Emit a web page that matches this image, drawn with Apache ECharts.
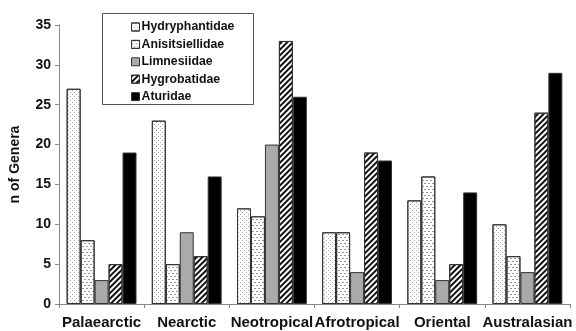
<!DOCTYPE html>
<html><head><meta charset="utf-8">
<script src="https://cdn.jsdelivr.net/npm/echarts@6/dist/echarts.min.js"></script>
<style>html,body{margin:0;padding:0;background:#fff}#c{width:576px;height:331px}</style>
</head><body><div id="c"></div>
<script>
var categories = ['Palaearctic','Nearctic','Neotropical','Afrotropical','Oriental','Australasian'];
var hydryphantidae = [27,23,12,9,13,10];
var anisitsiellidae = [8,5,11,9,16,6];
var limnesiidae = [3,9,20,4,3,4];
var hygrobatidae = [5,6,33,19,5,24];
var aturidae = [19,16,26,18,14,29];
var yTicks = [0,5,10,15,20,25,30,35];

var F = 'Liberation Sans, Arial, sans-serif';
var chart = echarts.init(document.getElementById('c'));
function bar(name, data, color, decal){
  var s = {name:name,type:'bar',data:data,barGap:'0%',barCategoryGap:'18%',
    itemStyle:{color:color,borderColor:'#333',borderWidth:1}};
  if(decal) s.itemStyle.decal = decal;
  return s;
}
chart.setOption({
  animation:false,
  grid:{left:59,right:6,top:25,bottom:27},
  graphic:[{type:'rect',left:102,top:13,shape:{width:151,height:91},style:{fill:'#fff',stroke:'#555',lineWidth:1},z:5}],
  legend:{orient:'vertical',left:126,top:15,itemWidth:8,itemHeight:8,itemGap:3.4,z:10,icon:'rect',
    itemStyle:{borderColor:'#333',borderWidth:1},
    textStyle:{fontFamily:F,fontWeight:'bold',fontSize:12.3,color:'#111',padding:[0,0,0,-3],lineHeight:14},
    data:['Hydryphantidae','Anisitsiellidae','Limnesiidae','Hygrobatidae','Aturidae']},
  xAxis:{type:'category',data:categories,
    axisLine:{lineStyle:{color:'#888',width:1}},
    axisTick:{show:true,length:4,lineStyle:{color:'#888'}},
    axisLabel:{fontFamily:F,fontWeight:'bold',fontSize:15,color:'#111',margin:11,interval:0}},
  yAxis:{type:'value',min:0,max:35,interval:5,
    name:'n of Genera',nameLocation:'middle',nameGap:37,
    nameTextStyle:{fontFamily:F,fontWeight:'bold',fontSize:14,color:'#111'},
    axisLine:{show:true,lineStyle:{color:'#888',width:1}},
    axisTick:{show:true,length:4,lineStyle:{color:'#888'}},
    splitLine:{show:false},
    axisLabel:{fontFamily:F,fontWeight:'bold',fontSize:14,color:'#111',margin:8,
      formatter:function(v){return yTicks.indexOf(v)>=0?String(v):'';}}},
  series:[
    bar('Hydryphantidae',hydryphantidae,'#fff',{symbol:'rect',symbolSize:1,color:'#aaa',dashArrayX:[[1,3],[0,2,1,1]],dashArrayY:[1,1]}),
    bar('Anisitsiellidae',anisitsiellidae,'#fff',{symbol:'rect',symbolSize:1,color:'#999',dashArrayX:[[2,2],[0,2,2,0]],dashArrayY:[1,1.5]}),
    bar('Limnesiidae',limnesiidae,'#aaa'),
    bar('Hygrobatidae',hygrobatidae,'#fff',{symbol:'rect',symbolSize:1,color:'#111',dashArrayX:[1,0],dashArrayY:[2,2],rotation:-Math.PI/4}),
    bar('Aturidae',aturidae,'#000')
  ]
});
</script></body></html>
